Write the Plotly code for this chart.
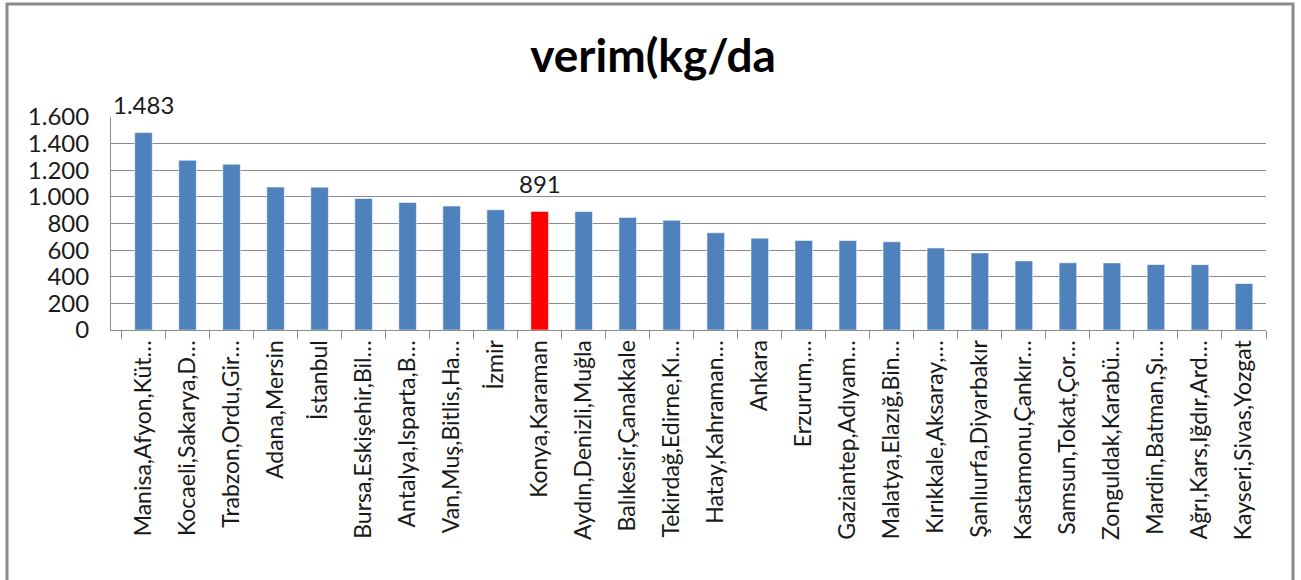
import plotly.graph_objects as go

# ---- data ----
title_text = "verim(kg/da"
categories = [
    "Manisa,Afyon,Küt…", "Kocaeli,Sakarya,D…", "Trabzon,Ordu,Gir…", "Adana,Mersin",
    "İstanbul", "Bursa,Eskişehir,Bil…", "Antalya,Isparta,B…", "Van,Muş,Bitlis,Ha…",
    "İzmir", "Konya,Karaman", "Aydın,Denizli,Muğla", "Balıkesir,Çanakkale",
    "Tekirdağ,Edirne,Kı…", "Hatay,Kahraman…", "Ankara", "Erzurum,…",
    "Gaziantep,Adıyam…", "Malatya,Elazığ,Bin…", "Kırıkkale,Aksaray,…", "Şanlıurfa,Diyarbakır",
    "Kastamonu,Çankır…", "Samsun,Tokat,Çor…", "Zonguldak,Karabü…", "Mardin,Batman,Şı…",
    "Ağrı,Kars,Iğdır,Ard…", "Kayseri,Sivas,Yozgat",
]
values = [1483, 1275, 1245, 1074, 1073, 988, 958, 931, 903, 891, 890, 846,
          824, 730, 690, 673, 672, 663, 616, 579, 519, 505, 504, 492, 491, 349]
highlight = "Konya,Karaman"
labeled = ["Manisa,Afyon,Küt…", "Konya,Karaman"]
y_ticks = [0, 200, 400, 600, 800, 1000, 1200, 1400, 1600]

BLUE = "#4F81BD"
RED = "#FF0000"
GRID = "#8C8C8C"
FONT = "Lato"

def fmt(v):
    return f"{v:,}".replace(",", ".")

colors = [RED if c == highlight else BLUE for c in categories]

fig = go.Figure()
fig.add_trace(go.Bar(
    x=categories, y=values,
    marker=dict(color=colors, line=dict(color="rgba(255,255,255,0.55)", width=1)),
    hoverinfo="x+y",
))

for c, v in zip(categories, values):
    if c in labeled:
        fig.add_annotation(x=c, y=v, text=fmt(v), showarrow=False,
                           yanchor="middle", yshift=28,
                           font=dict(family=FONT, size=24, color="#1a1a1a"))

# outer chart border
L, R, T, B = 111, 35, 117, 250
W, H = 1301, 580
pw, ph = W - L - R, H - T - B
def px_x(p):
    return (p - L) / pw
def px_y(p):
    return (H - B - p) / ph
fig.add_shape(type="rect", xref="paper", yref="paper",
              x0=px_x(7), x1=px_x(1293), y0=px_y(583), y1=px_y(4),
              line=dict(color="#8A8A8A", width=3), fillcolor="rgba(0,0,0,0)", layer="below")

fig.update_layout(
    width=W, height=H,
    margin=dict(l=L, r=R, t=T, b=B),
    paper_bgcolor="white", plot_bgcolor="white",
    separators=",.",
    bargap=0.6,
    showlegend=False,
    font=dict(family=FONT, color="#000000"),
    title=dict(text=f"<b>{title_text}</b>", x=0.502, xref="container", xanchor="center",
               y=1 - 56 / H, yref="container", yanchor="middle",
               font=dict(family=FONT, size=46, color="#000000")),
)
fig.update_xaxes(
    tickangle=-90, tickfont=dict(family=FONT, size=23, color="#1a1a1a"),
    showline=True, linecolor=GRID, linewidth=1,
    ticks="outside", tickson="boundaries", ticklen=8, tickcolor=GRID,
    showgrid=False,
)
fig.update_yaxes(
    range=[0, 1600], tickvals=y_ticks, ticktext=[fmt(v) for v in y_ticks],
    tickfont=dict(family=FONT, size=24, color="#1a1a1a"),
    showgrid=True, gridcolor=GRID, gridwidth=1,
    showline=True, linecolor=GRID, linewidth=1,
    zeroline=False, ticks="", ticklabelstandoff=16,
)

fig.write_html("out.html", config={"displayModeBar": False},
               post_script="document.body.style.margin='0';document.body.style.overflow='hidden';")
